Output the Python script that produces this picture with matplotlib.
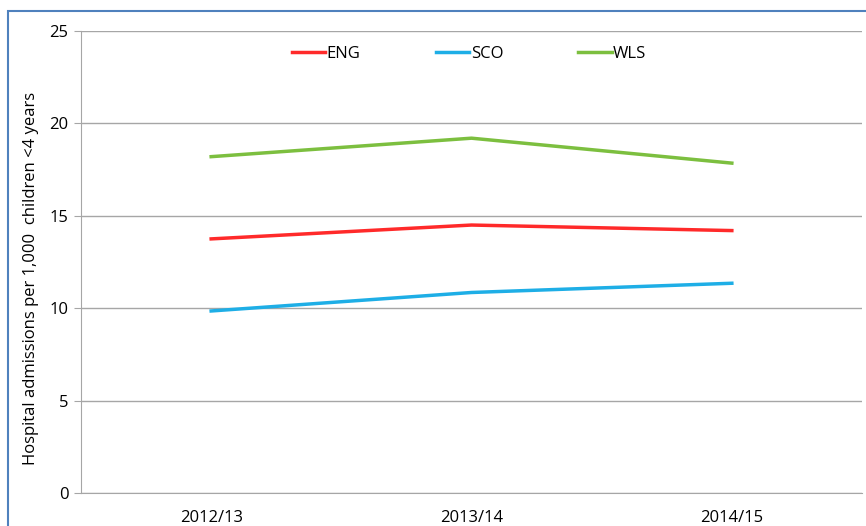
import matplotlib.pyplot as plt
from matplotlib.patches import Rectangle

# Datos
periodos = ['2012/13', '2013/14', '2014/15']
eng = [13.75, 14.5, 14.2]
sco = [9.85, 10.85, 11.35]
wls = [18.2, 19.2, 17.85]

W, H = 866, 526
fig = plt.figure(figsize=(W / 100, H / 100), dpi=100)
plt.rcParams['font.family'] = ['Open Sans', 'DejaVu Sans']

# Borde azul del gráfico
fig.patches.append(Rectangle((8 / W, -0.05), 1.2, 1 - 11 / H + 0.05,
                             transform=fig.transFigure, fill=False,
                             edgecolor='#4f81bd', linewidth=1.5))

ax = fig.add_axes([81 / W, 1 - 493 / H, (862 - 81) / W, (493 - 31) / H])
x = range(len(periodos))

ax.plot(x, eng, color='#ff2a2a', linewidth=2.5, label='ENG')
ax.plot(x, sco, color='#1eaee6', linewidth=2.5, label='SCO')
ax.plot(x, wls, color='#7cbf3f', linewidth=2.5, label='WLS')

ax.set_xlim(-0.5, 2.5)
ax.set_ylim(0, 25)
ax.set_yticks([0, 5, 10, 15, 20, 25])
ax.set_xticks(list(x))
ax.set_xticklabels(periodos)
ax.tick_params(axis='y', length=5, color='#a6a6a6', labelsize=12, pad=4)
ax.tick_params(axis='x', length=0, labelsize=12, pad=12)
ax.grid(axis='y', color='#a6a6a6', linewidth=1)
ax.set_axisbelow(True)
for s in ['top', 'right']:
    ax.spines[s].set_visible(False)
ax.spines['left'].set_color('#a6a6a6')
ax.spines['bottom'].set_color('#a6a6a6')

ax.set_ylabel('Hospital admissions per 1,000  children <4 years', fontsize=12)
ax.yaxis.set_label_coords(-0.054, 0.465)

ax.legend(loc='upper center', bbox_to_anchor=(0.497, 1.0), ncol=3, frameon=False,
          fontsize=12, handlelength=2.0, handletextpad=0.1, columnspacing=4.5)

plt.savefig('out.png', dpi=100, facecolor='white')
